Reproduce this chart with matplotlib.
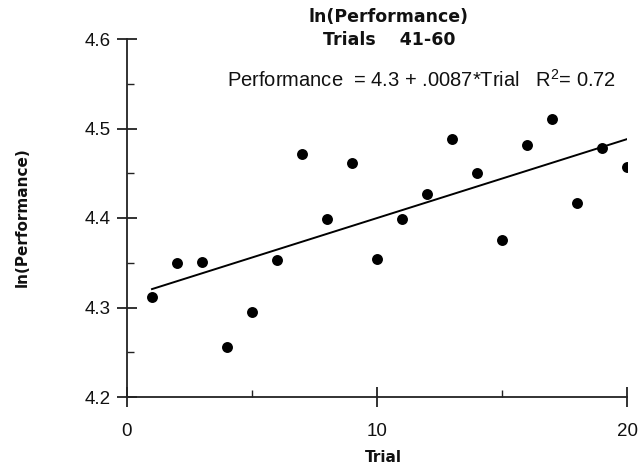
import numpy as np
import matplotlib
matplotlib.use("Agg")
import matplotlib.pyplot as plt
from matplotlib.ticker import MultipleLocator

trial = [1, 2, 3, 4, 5, 6, 7, 8, 9, 10, 11, 12, 13, 14, 15, 16, 17, 18, 19, 20]
ln_perf = [4.312, 4.350, 4.351, 4.256, 4.295, 4.353, 4.471, 4.399, 4.462, 4.354,
           4.399, 4.427, 4.488, 4.450, 4.375, 4.482, 4.511, 4.417, 4.478, 4.457]

title_lines = ["ln(Performance)", "Trials    41-60"]
equation = r"Performance  = 4.3 + .0087*Trial   R$^2$= 0.72"
y_ticks = [4.2, 4.3, 4.4, 4.5, 4.6]
y_ticklabels = ["4.2", "4.3", "4.4", "4.5", "4.6"]

plt.rcParams["font.family"] = ["Liberation Sans", "DejaVu Sans"]
plt.rcParams["mathtext.fontset"] = "custom"
plt.rcParams["mathtext.rm"] = "Liberation Sans"

W, H = 639, 467
fig = plt.figure(figsize=(W / 100, H / 100), dpi=100)
ax = fig.add_axes([127 / W, 1 - 397 / H, 500 / W, 358 / H])

ax.scatter(trial, ln_perf, s=62, color="black", zorder=3, linewidths=0)

slope, intercept = np.polyfit(trial, ln_perf, 1)
xs = np.array([trial[0], trial[-1]])
ax.plot(xs, intercept + slope * xs, color="black", lw=1.4)

ax.set_xlim(0, 20)
ax.set_ylim(4.2, 4.6)
ax.xaxis.set_major_locator(MultipleLocator(10))
ax.xaxis.set_minor_locator(MultipleLocator(5))
ax.set_yticks(y_ticks)
ax.set_yticklabels(y_ticklabels)
ax.yaxis.set_minor_locator(MultipleLocator(0.05))

for side in ("top", "right"):
    ax.spines[side].set_visible(False)
for side in ("left", "bottom"):
    ax.spines[side].set_linewidth(1.3)
    ax.spines[side].set_color("#222222")

ax.tick_params(which="major", direction="inout", length=14, width=1.3,
               labelsize=13.5, color="#222222", labelcolor="#111111")
ax.tick_params(axis="x", which="major", pad=12)
ax.tick_params(axis="y", which="major", pad=5)
ax.tick_params(which="minor", direction="in", length=5, width=1.0, color="#222222")

bold = dict(family="DejaVu Sans", fontweight="bold", color="#111111")
fig.text(383 / W, 1 - 457 / H, "Trial", ha="center", va="center", fontsize=11, **bold)
fig.text(22 / W, 1 - 217 / H, "ln(Performance)", ha="center", va="center",
         rotation=90, fontsize=11, **bold)

fig.text(388 / W, 1 - 17 / H, title_lines[0], ha="center", va="center",
         fontsize=12.5, **bold)
fig.text(389 / W, 1 - 40 / H, title_lines[1], ha="center", va="center",
         fontsize=12.5, **bold)
fig.text(421 / W, 1 - 80 / H, equation, ha="center", va="center",
         fontsize=14.5, color="#111111")

fig.savefig("out.png", dpi=100)
